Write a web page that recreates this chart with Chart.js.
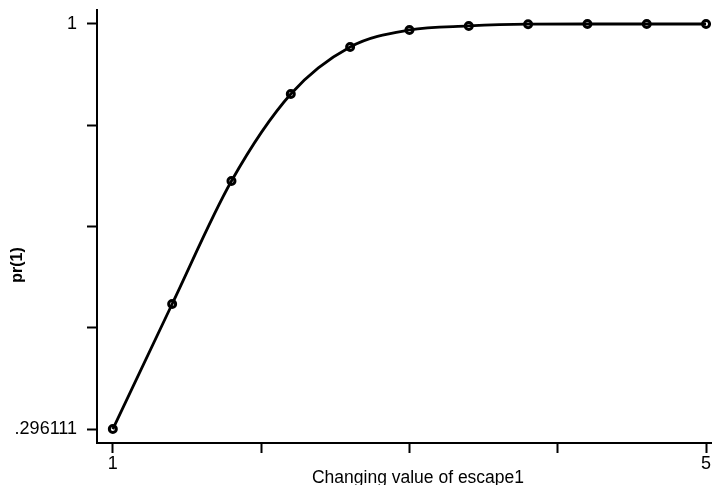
<!DOCTYPE html>
<html>
<head>
<meta charset="utf-8">
<script src="https://cdn.jsdelivr.net/npm/chart.js@4/dist/chart.umd.min.js"></script>
<style>
  html, body { margin: 0; padding: 0; background: #fff; }
  #wrap { width: 718px; height: 485px; }
</style>
</head>
<body>
<div id="wrap"><canvas id="chart" width="718" height="485"></canvas></div>
<script>
// values
const escapeValues = [1, 1.4, 1.8, 2.2, 2.6, 3.0, 3.4, 3.8, 4.2, 4.6, 5];
const prValues = [0.296111, 0.5134, 0.7271, 0.8783, 0.9600, 0.9896, 0.9966, 0.9997, 1.0, 1.0, 1.0];
const xTicks = [1, 2, 3, 4, 5];
const yTicks = [0.296111, 0.472083, 0.648056, 0.824028, 1];
const xTickLabels = { 1: '1', 5: '5' };
const yTickLabels = { 0: '.296111', 4: '1' };
const xTitle = 'Changing value of escape1';
const yTitle = 'pr(1)';

const FONT = '"Liberation Sans", Arial, Helvetica, sans-serif';

// axis titles are placed where Stata put them, not centred on the axes
const axisTitles = {
    id: 'axisTitles',
    afterDraw(chart) {
        const ctx = chart.ctx;
        ctx.save();
        ctx.fillStyle = '#000';
        ctx.textAlign = 'center';

        ctx.font = '17.5px ' + FONT;
        ctx.textBaseline = 'alphabetic';
        ctx.fillText(xTitle, 418, 483);

        ctx.translate(18, 265);
        ctx.rotate(-Math.PI / 2);
        ctx.font = 'bold 16px ' + FONT;
        ctx.textBaseline = 'middle';
        ctx.fillText(yTitle, 0, 0);
        ctx.restore();
    }
};

const ctx = document.getElementById('chart').getContext('2d');

new Chart(ctx, {
    type: 'line',
    data: {
        datasets: [{
            data: escapeValues.map((x, i) => ({ x: x, y: prValues[i] })),
            borderColor: '#000',
            borderWidth: 2.8,
            cubicInterpolationMode: 'monotone',
            pointRadius: 3.5,
            pointBorderWidth: 3,
            pointBorderColor: '#000',
            pointBackgroundColor: 'rgba(0,0,0,0)',
            fill: false
        }]
    },
    options: {
        responsive: false,
        animation: false,
        layout: { padding: { top: 10, right: 0, bottom: 0, left: 0 } },
        plugins: {
            legend: { display: false },
            tooltip: { enabled: false }
        },
        scales: {
            x: {
                type: 'linear',
                min: 0.8933,
                max: 5.0333,
                afterBuildTicks: scale => { scale.ticks = xTicks.map(v => ({ value: v })); },
                afterFit: scale => {
                    scale.height = 42;
                    scale.paddingLeft = 0;
                    scale.paddingRight = 0;
                },
                grid: {
                    drawOnChartArea: false,
                    drawTicks: true,
                    tickLength: 10,
                    tickWidth: 2,
                    tickColor: '#000'
                },
                border: { display: true, color: '#000', width: 2 },
                ticks: {
                    padding: 0,
                    maxRotation: 0,
                    autoSkip: false,
                    color: '#000',
                    font: { family: FONT, size: 18 },
                    callback: v => xTickLabels[v] || ''
                }
            },
            y: {
                type: 'linear',
                min: 0.27183,
                max: 1.02433,
                afterBuildTicks: scale => { scale.ticks = yTicks.map(v => ({ value: v })); },
                afterFit: scale => {
                    scale.width = 97;
                    scale.paddingTop = 0;
                    scale.paddingBottom = 0;
                },
                grid: {
                    drawOnChartArea: false,
                    drawTicks: true,
                    tickLength: 10,
                    tickWidth: 2,
                    tickColor: '#000'
                },
                border: { display: true, color: '#000', width: 2 },
                ticks: {
                    padding: 10,
                    autoSkip: false,
                    color: '#000',
                    font: { family: FONT, size: 18 },
                    callback: (v, i) => yTickLabels[i] || ''
                }
            }
        }
    },
    plugins: [axisTitles]
});
</script>
</body>
</html>
